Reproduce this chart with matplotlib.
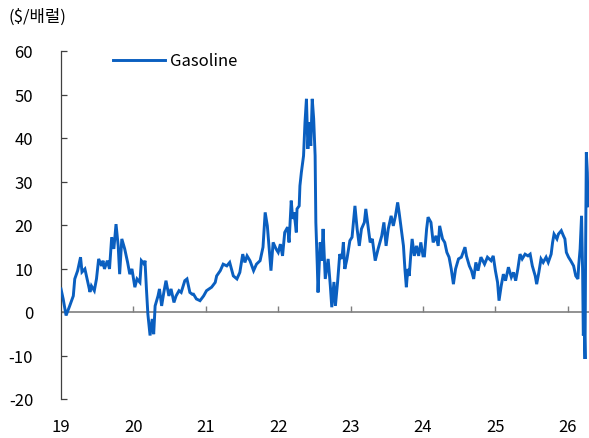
import matplotlib
matplotlib.use("Agg")
import matplotlib.pyplot as plt

plt.rcParams['font.family'] = ['Noto Sans CJK KR', 'DejaVu Sans']
plt.rcParams['axes.unicode_minus'] = False

# --- 데이터 (연도 소수 표기, $/배럴) ---
years = [
    2019.00, 2019.03, 2019.07, 2019.12, 2019.17, 2019.19, 2019.23, 2019.27, 2019.29, 2019.33,
    2019.36, 2019.40, 2019.42, 2019.46, 2019.49, 2019.52, 2019.56, 2019.58, 2019.60, 2019.64,
    2019.67, 2019.70, 2019.73, 2019.76, 2019.79, 2019.81, 2019.84, 2019.88, 2019.92, 2019.95,
    2019.98, 2020.02, 2020.05, 2020.09, 2020.11, 2020.15, 2020.16, 2020.18, 2020.20, 2020.23,
    2020.26, 2020.28, 2020.30, 2020.34, 2020.36, 2020.39, 2020.42, 2020.45, 2020.49, 2020.52,
    2020.56, 2020.59, 2020.63, 2020.66, 2020.71, 2020.74, 2020.78, 2020.81, 2020.83, 2020.87,
    2020.92, 2020.97, 2021.01, 2021.08, 2021.13, 2021.15, 2021.20, 2021.24, 2021.29, 2021.33,
    2021.38, 2021.43, 2021.47, 2021.51, 2021.54, 2021.57, 2021.61, 2021.66, 2021.70, 2021.75,
    2021.79, 2021.82, 2021.85, 2021.88, 2021.90, 2021.93, 2021.97, 2022.00, 2022.03, 2022.06,
    2022.09, 2022.13, 2022.15, 2022.18, 2022.20, 2022.22, 2022.25, 2022.26, 2022.29, 2022.30,
    2022.32, 2022.35, 2022.37, 2022.39, 2022.41, 2022.43, 2022.45, 2022.47, 2022.49, 2022.51,
    2022.52, 2022.54, 2022.55, 2022.58, 2022.60, 2022.62, 2022.65, 2022.69, 2022.72, 2022.74,
    2022.77, 2022.79, 2022.82, 2022.85, 2022.88, 2022.90, 2022.92, 2022.95, 2022.99, 2023.02,
    2023.06, 2023.09, 2023.12, 2023.15, 2023.19, 2023.21, 2023.24, 2023.27, 2023.30, 2023.34,
    2023.38, 2023.43, 2023.46, 2023.49, 2023.52, 2023.56, 2023.59, 2023.62, 2023.65, 2023.67,
    2023.70, 2023.73, 2023.75, 2023.77, 2023.79, 2023.81, 2023.83, 2023.85, 2023.88, 2023.91,
    2023.94, 2023.97, 2024.00, 2024.02, 2024.05, 2024.07, 2024.11, 2024.14, 2024.18, 2024.21,
    2024.23, 2024.27, 2024.30, 2024.33, 2024.36, 2024.39, 2024.42, 2024.45, 2024.49, 2024.53,
    2024.58, 2024.60, 2024.64, 2024.67, 2024.70, 2024.73, 2024.76, 2024.80, 2024.85, 2024.89,
    2024.94, 2024.97, 2025.00, 2025.03, 2025.05, 2025.08, 2025.11, 2025.14, 2025.18, 2025.22,
    2025.25, 2025.28, 2025.31, 2025.34, 2025.37, 2025.41, 2025.45, 2025.48, 2025.51, 2025.55,
    2025.57, 2025.60, 2025.63, 2025.66, 2025.70, 2025.73, 2025.77, 2025.79, 2025.81, 2025.85,
    2025.87, 2025.91, 2025.94, 2025.96, 2025.98, 2026.01, 2026.04, 2026.08, 2026.11, 2026.14,
    2026.15, 2026.17, 2026.19, 2026.205, 2026.214, 2026.228, 2026.238, 2026.247, 2026.256, 2026.270,
    2026.279,
]
gasoline = [
    5.3, 3.0, -0.8, 1.4, 3.7, 7.6, 9.5, 12.6, 9.2, 9.9,
    7.6, 4.6, 6.0, 4.9, 7.6, 12.2, 10.6, 11.8, 9.9, 11.8,
    9.9, 17.2, 14.5, 20.2, 15.2, 8.7, 16.8, 14.5, 11.4, 8.7,
    9.9, 5.7, 7.6, 6.8, 11.8, 11.0, 11.8, 5.3, -0.5, -5.4,
    -1.6, -5.1, 1.4, 3.7, 5.3, 1.4, 4.5, 7.2, 3.7, 5.3,
    2.2, 3.7, 4.9, 4.5, 7.2, 7.6, 4.5, 4.1, 4.1, 3.0,
    2.6, 3.7, 4.9, 5.7, 6.8, 8.3, 9.5, 11.0, 10.6, 11.4,
    8.3, 7.6, 9.1, 13.3, 11.4, 12.9, 11.8, 9.5, 11.0, 11.8,
    14.9, 22.9, 19.8, 13.7, 9.5, 16.0, 14.5, 13.7, 15.6, 12.9,
    18.3, 19.5, 16.0, 25.6, 21.4, 22.9, 18.3, 23.7, 24.4, 29.0,
    32.1, 35.9, 43.6, 49.0, 37.5, 43.6, 38.2, 49.0, 44.4, 35.9,
    20.6, 10.6, 4.5, 16.0, 11.8, 19.1, 7.6, 12.2, 6.0, 1.1,
    6.9, 1.4, 6.8, 13.3, 12.2, 16.0, 9.9, 12.2, 16.4, 17.2,
    24.4, 19.1, 15.2, 19.1, 20.6, 23.7, 19.8, 16.0, 16.8, 11.8,
    14.5, 17.5, 20.6, 15.2, 19.1, 22.1, 19.8, 22.1, 25.2, 22.9,
    19.1, 15.2, 9.9, 5.7, 9.9, 8.3, 12.9, 16.8, 12.9, 15.2,
    12.9, 16.0, 12.9, 12.9, 19.1, 21.8, 20.6, 16.0, 17.5, 15.2,
    19.8, 16.8, 16.0, 13.7, 12.6, 9.9, 6.4, 9.9, 12.2, 12.6,
    14.9, 12.9, 10.6, 9.5, 7.6, 11.4, 9.5, 12.6, 11.0, 12.6,
    11.8, 12.9, 9.5, 6.8, 2.6, 6.0, 8.7, 7.2, 10.3, 8.0,
    9.1, 7.2, 9.9, 13.3, 12.2, 13.3, 12.9, 13.3, 10.6, 8.3,
    6.4, 9.1, 12.2, 11.4, 12.6, 11.4, 13.3, 16.0, 17.9, 16.8,
    17.9, 18.7, 17.5, 16.8, 13.7, 12.6, 11.8, 10.6, 8.3, 7.6,
    10.6, 14.5, 22.1, 9.1, -5.4, -3.1, -10.8, 16.8, 36.7, 32.1,
    24.4,
]
tick_years = [2019, 2020, 2021, 2022, 2023, 2024, 2025, 2026]
tick_labels = ['19', '20', '21', '22', '23', '24', '25', '26']
y_ticks = [-20, -10, 0, 10, 20, 30, 40, 50, 60]

# --- 그래프 ---
fig = plt.figure(figsize=(5.89, 4.39), dpi=100)
ax = fig.add_axes([61 / 589, 1 - 400 / 439, 528 / 589, 348 / 439])

ax.plot(years, gasoline, color='#0a5fc0', lw=2.1, label='Gasoline', zorder=3,
        solid_joinstyle='miter')

# 0 기준선과 눈금
ax.axhline(0, color='#7f7f7f', lw=1.2, zorder=2)
ax.vlines(tick_years[1:], 0, 1.3, color='#7f7f7f', lw=1.0, zorder=2)

ax.set_xlim(2019, 2019 + 528 / 72.4)
ax.set_ylim(-20, 60)
ax.set_xticks(tick_years)
ax.set_xticklabels(tick_labels)
ax.set_yticks(y_ticks)
ax.tick_params(axis='x', length=0, pad=14, labelsize=12, colors='black')
ax.tick_params(axis='y', direction='in', length=4, width=0.9, pad=20,
               labelsize=12, color='#404040')

for s in ['top', 'right', 'bottom']:
    ax.spines[s].set_visible(False)
ax.spines['left'].set_color('#404040')
ax.spines['left'].set_linewidth(0.9)

ax.legend(loc='center left', bbox_to_anchor=(52 / 528, 1 - 10 / 348), frameon=False,
          fontsize=12, handlelength=3.1, handletextpad=0.3, borderpad=0, borderaxespad=0)

fig.text(8 / 589, 1 - 17 / 439, '($/배럴)', fontsize=12, va='center', ha='left')

fig.savefig('out.png', dpi=100)
